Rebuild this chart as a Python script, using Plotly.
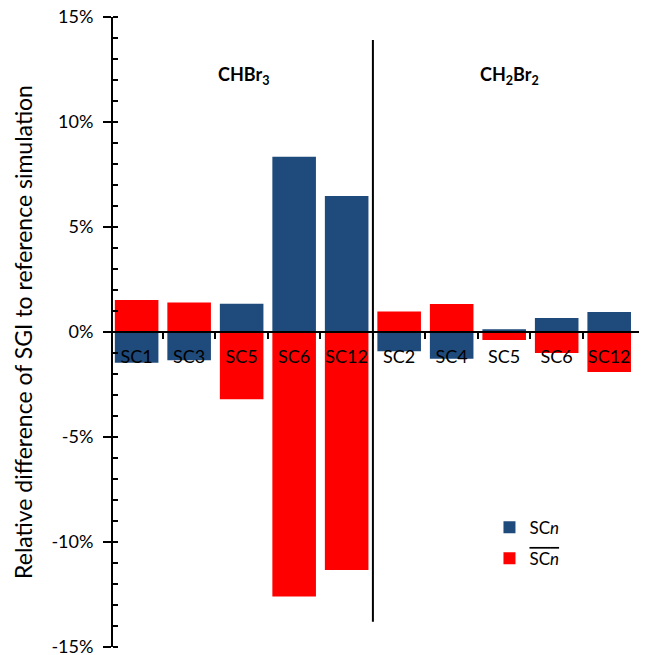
import plotly.graph_objects as go

# Data
labels = ["SC1", "SC3", "SC5", "SC6", "SC12", "SC2", "SC4", "SC5", "SC6", "SC12"]
groups = ["CHBr<sub>3</sub>", "CH<sub>2</sub>Br<sub>2</sub>"]
scn = [-1.46, -1.35, 1.35, 8.35, 6.48, -0.92, -1.27, 0.13, 0.67, 0.95]
scn_bar = [1.52, 1.40, -3.2, -12.6, -11.33, 0.98, 1.33, -0.38, -1.0, -1.9]
y_ticks = [-15, -10, -5, 0, 5, 10, 15]
y_ticktext = ["-15%", "-10%", "-5%", "0%", "5%", "10%", "15%"]

xs = list(range(len(labels)))
boundaries = [i + 0.5 for i in range(len(labels) - 1)]
FONT = "Lato, 'Open Sans', sans-serif"

fig = go.Figure()
fig.add_trace(go.Bar(x=xs, y=scn, name="SC<i>n</i>", marker_color="#1F4A7C",
                     marker_line_width=0, width=0.83, legendgroup="a"))
fig.add_trace(go.Bar(x=xs, y=scn_bar, xaxis="x2",
                     name='<span style="text-decoration:overline">SC<i>n</i></span>',
                     marker_color="#FF0000", marker_line_width=0, width=0.83,
                     legendgroup="b"))

# page body has an 8px margin: size the figure so that the plot lands in place
fig.update_layout(
    barmode="overlay",
    width=639, height=647,
    margin=dict(l=105, r=0, t=9, b=8, autoexpand=False),
    plot_bgcolor="white", paper_bgcolor="white",
    font=dict(family=FONT, size=18, color="black"),
    legend=dict(x=0.705, y=0.218, xanchor="left", yanchor="top",
                font=dict(size=17), bgcolor="rgba(0,0,0,0)", tracegroupgap=6),
    xaxis=dict(
        range=[-0.45, 9.72],
        tickvals=boundaries, showticklabels=False,
        anchor="free", position=0.5,
        showline=True, linecolor="black", linewidth=2,
        ticks="outside", ticklen=6, tickwidth=2, tickcolor="black",
        showgrid=False, zeroline=False,
    ),
    xaxis2=dict(
        matches="x", overlaying="x",
        anchor="free", position=0.5,
        tickvals=xs, ticktext=labels,
        ticks="", showline=False, showgrid=False, zeroline=False,
        ticklabeloverflow="allow",
        ticklabelstandoff=12,
        tickfont=dict(size=18),
    ),
    yaxis=dict(
        range=[-15, 15],
        tickvals=y_ticks, ticktext=y_ticktext,
        showline=True, linecolor="black", linewidth=2,
        ticks="outside", ticklen=8, tickwidth=2, tickcolor="black",
        minor=dict(dtick=1, ticks="inside", ticklen=5, tickwidth=1.5,
                   tickcolor="black"),
        showgrid=False, zeroline=False,
        ticklabeloverflow="allow",
        title=dict(text="Relative difference of SGI to reference simulation",
                   font=dict(size=23), standoff=12),
        tickfont=dict(size=18),
        ticklabelstandoff=6,
    ),
)

# divider between compound groups
fig.add_shape(type="line", xref="x", yref="y", x0=4.5, x1=4.5, y0=-13.8, y1=13.9,
              line=dict(color="black", width=2))

for gx, gtext in zip([2.05, 7.1], groups):
    fig.add_annotation(x=gx, y=12.2, xref="x", yref="y", text="<b>" + gtext + "</b>",
                       showarrow=False, font=dict(size=18))

fig.write_html("out.html")
